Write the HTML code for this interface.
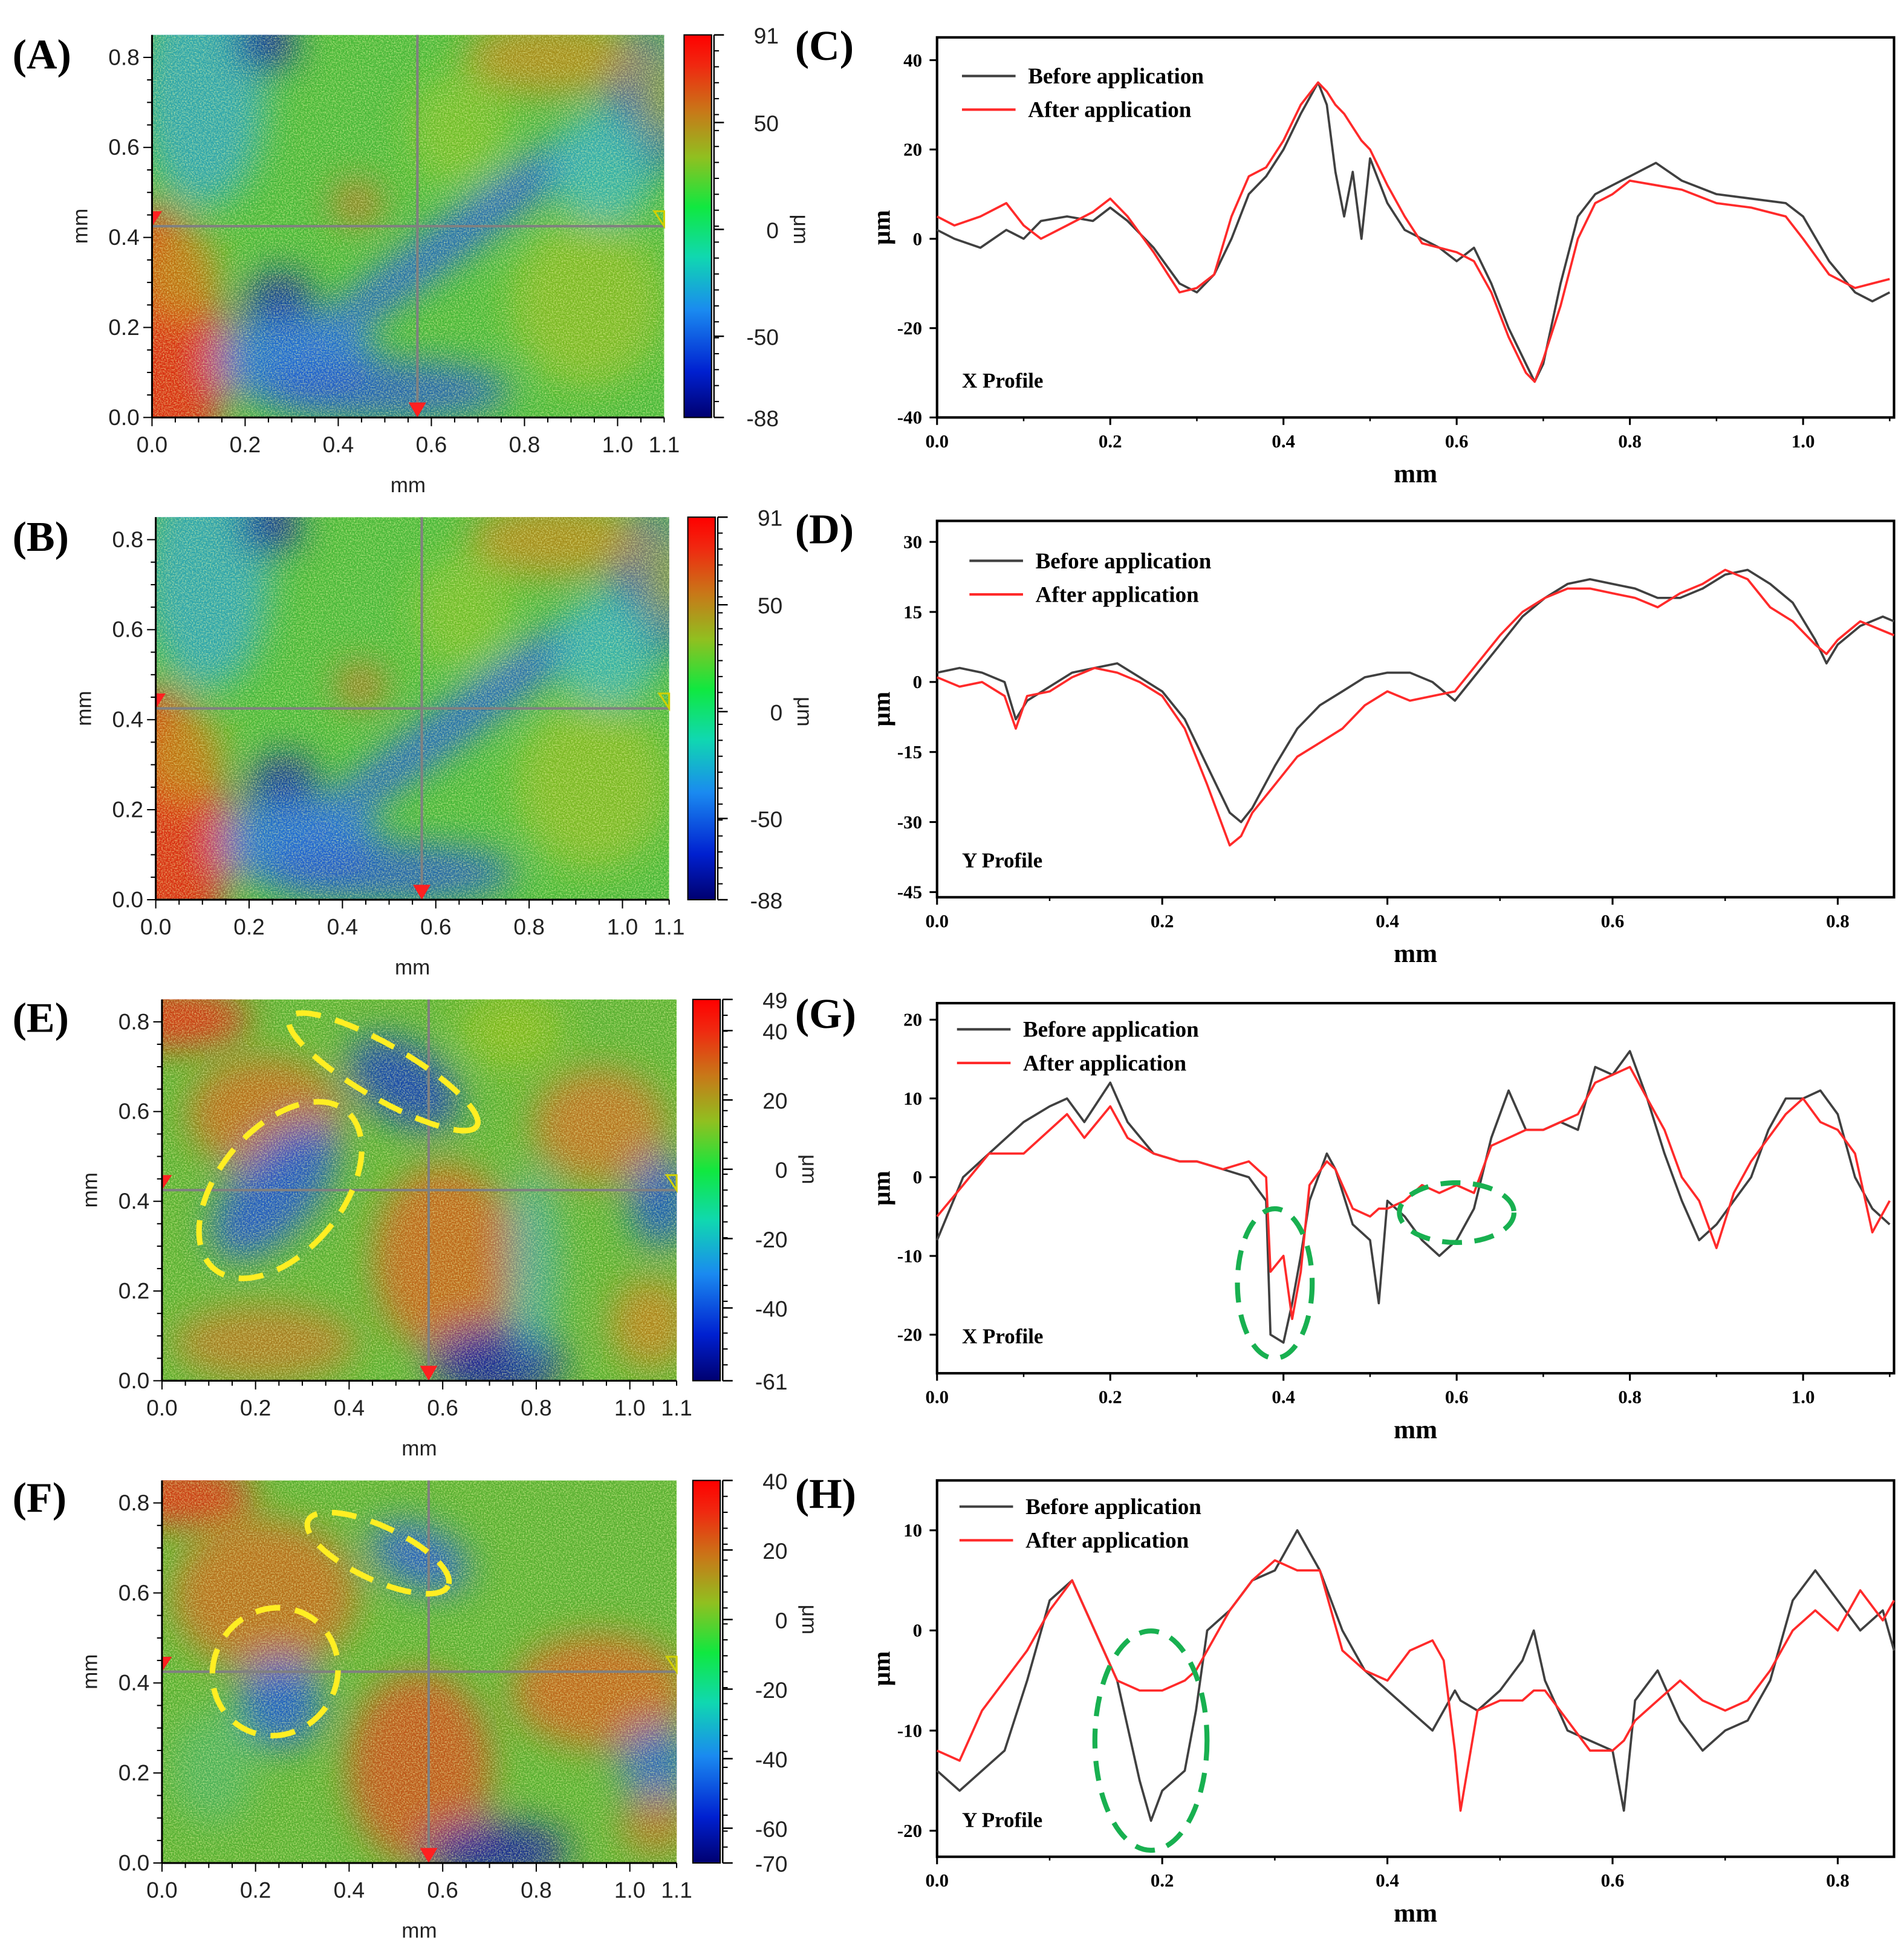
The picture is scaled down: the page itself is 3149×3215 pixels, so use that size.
<!DOCTYPE html>
<html><head><meta charset="utf-8"><style>
html,body{margin:0;padding:0;background:#fff;}
svg{display:block;}
text{font-family:"Liberation Sans",sans-serif;}
.serif{font-family:"Liberation Serif",serif;}
</style></head><body>
<svg id="fig" width="3149" height="3215" viewBox="0 0 1528 1560" preserveAspectRatio="none" xmlns="http://www.w3.org/2000/svg">
<defs>
<filter id="blur" x="-20%" y="-20%" width="140%" height="140%"><feGaussianBlur stdDeviation="14"/></filter>
<filter id="noise" x="0" y="0" width="100%" height="100%"><feTurbulence type="fractalNoise" baseFrequency="0.9" numOctaves="2" seed="3"/><feColorMatrix type="matrix" values="0 0 0 0 0.9  0 0 0 0 1  0 0 0 0 0.4  0 0 0 -2.2 1.35"/></filter>
<linearGradient id="jet" x1="0" y1="1" x2="0" y2="0">
<stop offset="0" stop-color="#000070"/><stop offset="0.12" stop-color="#0020d0"/><stop offset="0.28" stop-color="#1a8af0"/><stop offset="0.42" stop-color="#10d8b0"/><stop offset="0.55" stop-color="#10e840"/><stop offset="0.68" stop-color="#90c020"/><stop offset="0.8" stop-color="#c87818"/><stop offset="0.92" stop-color="#f02810"/><stop offset="1" stop-color="#ff0000"/>
</linearGradient>
</defs>
<g id="root"></g>
</svg>
<script>
// ---------- profile data ----------
const cX = [0,0.02,0.05,0.08,0.1,0.12,0.15,0.18,0.2,0.22,0.25,0.28,0.3,0.32,0.34,0.36,0.38,0.4,0.42,0.44,0.45,0.46,0.47,0.48,0.49,0.5,0.52,0.54,0.56,0.58,0.6,0.62,0.64,0.66,0.68,0.69,0.7,0.72,0.74,0.76,0.78,0.8,0.83,0.86,0.9,0.94,0.98,1.0,1.03,1.06,1.08,1.1];
const cBefore = [2,0,-2,2,0,4,5,4,7,4,-2,-10,-12,-8,0,10,14,20,28,35,30,15,5,15,0,18,8,2,0,-2,-5,-2,-10,-20,-28,-32,-28,-10,5,10,12,14,17,13,10,9,8,5,-5,-12,-14,-12];
const cAfter = [5,3,5,8,3,0,3,6,9,5,-3,-12,-11,-8,5,14,16,22,30,35,33,30,28,25,22,20,12,5,-1,-2,-3,-5,-12,-22,-30,-32,-27,-15,0,8,10,13,12,11,8,7,5,0,-8,-11,-10,-9];
const dX = [0,0.02,0.04,0.06,0.07,0.08,0.1,0.12,0.14,0.16,0.18,0.2,0.22,0.24,0.26,0.27,0.28,0.3,0.32,0.34,0.36,0.38,0.4,0.42,0.44,0.46,0.48,0.5,0.52,0.54,0.56,0.58,0.6,0.62,0.64,0.66,0.68,0.7,0.72,0.74,0.76,0.78,0.79,0.8,0.82,0.84,0.85];
const dBefore = [2,3,2,0,-8,-4,-1,2,3,4,1,-2,-8,-18,-28,-30,-27,-18,-10,-5,-2,1,2,2,0,-4,2,8,14,18,21,22,21,20,18,18,20,23,24,21,17,9,4,8,12,14,13];
const dAfter = [1,-1,0,-3,-10,-3,-2,1,3,2,0,-3,-10,-22,-35,-33,-28,-22,-16,-13,-10,-5,-2,-4,-3,-2,4,10,15,18,20,20,19,18,16,19,21,24,22,16,13,8,6,9,13,11,10];
const gX = [0,0.03,0.06,0.1,0.13,0.15,0.17,0.2,0.22,0.25,0.28,0.3,0.33,0.36,0.38,0.385,0.4,0.41,0.42,0.43,0.45,0.46,0.48,0.5,0.51,0.52,0.54,0.56,0.58,0.6,0.62,0.64,0.66,0.68,0.7,0.72,0.74,0.76,0.78,0.8,0.82,0.84,0.86,0.88,0.9,0.92,0.94,0.96,0.98,1.0,1.02,1.04,1.06,1.08,1.1];
const gBefore = [-8,0,3,7,9,10,7,12,7,3,2,2,1,0,-3,-20,-21,-16,-10,-3,3,1,-6,-8,-16,-3,-5,-8,-10,-8,-4,5,11,6,6,7,6,14,13,16,10,3,-3,-8,-6,-3,0,6,10,10,11,8,0,-4,-6];
const gAfter = [-5,-1,3,3,6,8,5,9,5,3,2,2,1,2,0,-12,-10,-18,-12,-1,2,1,-4,-5,-4,-4,-3,-1,-2,-1,-2,4,5,6,6,7,8,12,13,14,10,6,0,-3,-9,-2,2,5,8,10,7,6,3,-7,-3];
const hX = [0,0.02,0.04,0.06,0.08,0.1,0.12,0.14,0.16,0.18,0.19,0.2,0.22,0.23,0.24,0.26,0.28,0.3,0.32,0.34,0.36,0.38,0.4,0.42,0.44,0.45,0.46,0.465,0.48,0.5,0.52,0.53,0.54,0.56,0.58,0.6,0.61,0.62,0.64,0.66,0.68,0.7,0.72,0.74,0.76,0.78,0.8,0.82,0.84,0.85];
const hBefore = [-14,-16,-14,-12,-5,3,5,0,-5,-15,-19,-16,-14,-8,0,2,5,6,10,6,0,-4,-6,-8,-10,-8,-6,-7,-8,-6,-3,0,-5,-10,-11,-12,-18,-7,-4,-9,-12,-10,-9,-5,3,6,3,0,2,-2];
const hAfter = [-12,-13,-8,-5,-2,2,5,0,-5,-6,-6,-6,-5,-4,-2,2,5,7,6,6,-2,-4,-5,-2,-1,-3,-12,-18,-8,-7,-7,-6,-6,-9,-12,-12,-11,-9,-7,-5,-7,-8,-7,-4,0,2,0,4,1,3];
const xTicksX = [0,0.2,0.4,0.6,0.8,1.0];
const xTicksY = [0,0.2,0.4,0.6,0.8];
const cYTicks = [-40,-20,0,20,40];
const dYTicks = [-45,-30,-15,0,15,30];
const gYTicks = [-20,-10,0,10,20];
const hYTicks = [-20,-10,0,10];
const mapTicksX = [0,0.2,0.4,0.6,0.8,1.0,1.1];
const mapTicksY = [0,0.2,0.4,0.6,0.8];
const cbA = [91,50,0,-50,-88];
const cbE = [49,40,20,0,-20,-40,-61];
const cbF = [40,20,0,-20,-40,-60,-70];

const NS='http://www.w3.org/2000/svg';
const root=document.getElementById('root');
function el(tag,attrs,parent){const e=document.createElementNS(NS,tag);for(const k in attrs)e.setAttribute(k,attrs[k]);(parent||root).appendChild(e);return e;}
function txt(s,attrs,parent){const e=el('text',attrs,parent);e.textContent=s;return e;}

function profile(o){
  const g=el('g',{});
  
  
  const {x0,x1,y0,y1,xmin,xmax,ymin,ymax}=o;
  const sx=v=>x0+(v-xmin)/(xmax-xmin)*(x1-x0);
  const sy=v=>y1-(v-ymin)/(ymax-ymin)*(y1-y0);
  const box=el('rect',{x:x0,y:y0,width:x1-x0,height:y1-y0,fill:'none',stroke:'#000','stroke-width':2},g);
  
  o.xt.forEach(v=>{
    el('line',{x1:sx(v),x2:sx(v),y1:y1,y2:y1+6,stroke:'#000','stroke-width':1.5},g);
    const t=txt(v.toFixed(1),{x:sx(v),y:y1+24,'text-anchor':'middle','font-size':15,'font-weight':'bold',class:'serif'},g);
    
  });
  for(let v=xmin;v<=xmax+1e-9;v+=(o.xt[1]-o.xt[0])/2){el('line',{x1:sx(v),x2:sx(v),y1:y1,y2:y1+3,stroke:'#000','stroke-width':1.2},g);}
  o.yt.forEach(v=>{
    el('line',{x1:x0-6,x2:x0,y1:sy(v),y2:sy(v),stroke:'#000','stroke-width':1.5},g);
    const t=txt(String(v),{x:x0-12,y:sy(v)+5,'text-anchor':'end','font-size':15,'font-weight':'bold',class:'serif'},g);
    
  });
  const xl=txt('mm',{x:(x0+x1)/2,y:y1+52,'text-anchor':'middle','font-size':21,'font-weight':'bold',class:'serif'},g);
  
  const yl=txt('μm',{x:0,y:0,transform:`translate(${x0-38},${(y0+y1)/2}) rotate(-90)`,'text-anchor':'middle','font-size':20,'font-weight':'bold',class:'serif'},g);
  
  [[o.before,'#404040','before-application-line'],[o.after,'#ff2a2a','after-application-line']].forEach(([arr,c,n])=>{
    const d=o.xs.map((v,i)=>(i?'L':'M')+sx(v).toFixed(1)+' '+sy(arr[i]).toFixed(1)).join(' ');
    const p=el('path',{d:d,fill:'none',stroke:c,'stroke-width':1.8,'stroke-linejoin':'round'},g);
    
  });
  const lg=el('g',{},g);
  
  [['Before application','#404040'],['After application','#ff2a2a']].forEach(([s,c],i)=>{
    const yy=o.ly+i*27;
    el('line',{x1:o.lx,x2:o.lx+43,y1:yy,y2:yy,stroke:c,'stroke-width':2},lg);
    const t=txt(s,{x:o.lx+53,y:yy+6,'font-size':18,'font-weight':'bold',class:'serif'},lg);
    
  });
  const pl=txt(o.plabel,{x:x0+20,y:y1-24,'font-size':17,'font-weight':'bold',class:'serif'},g);
  
  (o.circles||[]).forEach(c=>{
    const e=el('ellipse',{cx:sx(c[0]),cy:sy(c[1]),rx:c[2],ry:c[3],fill:'none',stroke:'#18b050','stroke-width':4,'stroke-dasharray':'16 10'},g);
    
  });
}

function heatmap(o){
  const g=el('g',{});
  
  
  const {x0,x1,y0,y1}=o; const W=x1-x0,H=y1-y0;
  const id='clip'+o.name;
  const cp=el('clipPath',{id:id},g);el('rect',{x:x0,y:y0,width:W,height:H},cp);
  const inner=el('g',{'clip-path':`url(#${id})`},g);
  el('rect',{x:x0,y:y0,width:W,height:H,fill:o.base},inner);
  const bl=el('g',{filter:'url(#blur)'},inner);
  o.blobs.forEach(b=>{
    el('ellipse',{cx:x0+b[0]*W,cy:y0+b[1]*H,rx:b[2]*W,ry:b[3]*H,fill:b[4],opacity:b[6]||0.9,transform:`rotate(${b[5]||0} ${x0+b[0]*W} ${y0+b[1]*H})`},bl);
  });
  el('rect',{x:x0,y:y0,width:W,height:H,filter:'url(#noise)',opacity:0.6},inner);
  const cx=x0+0.57/1.1*W, cy=y1-0.425/0.85*H;
  el('line',{x1:cx,x2:cx,y1:y0,y2:y1,stroke:'#808080','stroke-width':2},g);
  el('line',{x1:x0,x2:x1,y1:cy,y2:cy,stroke:'#808080','stroke-width':2},g);
  el('path',{d:`M${cx-7} ${y1-12} L${cx+7} ${y1-12} L${cx} ${y1} Z`,fill:'#ff2020'},g);
  el('path',{d:`M${x0} ${cy-12} L${x0+8} ${cy-12} L${x0} ${cy} Z`,fill:'#ff2020'},g);
  el('path',{d:`M${x1-8} ${cy-12} L${x1} ${cy-12} L${x1} ${cy} Z`,fill:'none',stroke:'#d0d000','stroke-width':1.5},g);
  el('line',{x1:x0,x2:x1,y1:y1,y2:y1,stroke:'#000','stroke-width':1.5},g);
  el('line',{x1:x0,x2:x0,y1:y0,y2:y1,stroke:'#000','stroke-width':1.5},g);
  const sx=v=>x0+v/1.1*W, sy=v=>y1-v/0.85*H;
  for(let v=0;v<=1.1001;v+=0.05)el('line',{x1:sx(v),x2:sx(v),y1:y1,y2:y1+(Math.abs(v*5-Math.round(v*5))<1e-6?7:4),stroke:'#000','stroke-width':1},g);
  for(let v=0;v<=0.85;v+=0.05)el('line',{x1:x0-(Math.abs(v*5-Math.round(v*5))<1e-6?7:4),x2:x0,y1:sy(v),y2:sy(v),stroke:'#000','stroke-width':1},g);
  mapTicksX.forEach(v=>{const t=txt(v.toFixed(1),{x:sx(v),y:y1+28,'text-anchor':'middle','font-size':18,fill:'#222'},g);});
  mapTicksY.forEach(v=>{const t=txt(v.toFixed(1),{x:x0-10,y:sy(v)+6,'text-anchor':'end','font-size':18,fill:'#222'},g);});
  const xl=txt('mm',{x:(x0+x1)/2,y:y1+60,'text-anchor':'middle','font-size':17,fill:'#222'},g);
  
  const yl=txt('mm',{x:0,y:0,transform:`translate(${x0-52},${(y0+y1)/2}) rotate(-90)`,'text-anchor':'middle','font-size':17,fill:'#222'},g);
  
  const cb=el('g',{},g);
  el('rect',{x:o.cbx,y:y0,width:22,height:H,fill:'url(#jet)',stroke:'#000','stroke-width':1},cb);
  el('line',{x1:o.cbx+24,x2:o.cbx+24,y1:y0,y2:y1,stroke:'#000','stroke-width':1.2},cb);
  for(let i=0;i<=24;i++){el('line',{x1:o.cbx+24,x2:o.cbx+28,y1:y0+i*H/24,y2:y0+i*H/24,stroke:'#000','stroke-width':1},cb);}
  const vmax=o.cb[0],vmin=o.cb[o.cb.length-1];
  o.cb.forEach(v=>{const yy=y1-(v-vmin)/(vmax-vmin)*H;el('line',{x1:o.cbx+24,x2:o.cbx+32,y1:yy,y2:yy,stroke:'#000','stroke-width':1.2},cb);
    const t=txt(String(v),{x:o.cbx+76,y:yy+7,'text-anchor':'end','font-size':18,fill:'#222'},cb);});
  const ul=txt('μm',{x:0,y:0,transform:`translate(${o.cbx+88},${y1-(0-vmin)/(vmax-vmin)*H}) rotate(90)`,'text-anchor':'middle','font-size':17,fill:'#222'},cb);
  
  (o.yellow||[]).forEach(c=>{
    const e=el('ellipse',{cx:x0+c[0]*W,cy:y0+c[1]*H,rx:c[2]*W,ry:c[3]*H,fill:'none',stroke:'#ffee22','stroke-width':4.5,'stroke-dasharray':'20 12',transform:`rotate(${c[4]} ${x0+c[0]*W} ${y0+c[1]*H})`},g);
    
  });
}

const blobsAB=[
 [0.0,0.85,0.14,0.4,'#e02808',0,0.95],[0.06,0.62,0.08,0.12,'#b09010',0,0.7],
 [0.62,0.5,0.55,0.05,'#1a58d8',-37,0.95],[0.25,0.72,0.07,0.1,'#0818a0',0],
 [0.28,0.85,0.16,0.12,'#2070d8',0],[0.1,0.15,0.12,0.3,'#28a0c8',0,0.8],
 [0.22,0.02,0.06,0.08,'#0a20a0',0],[0.97,0.18,0.07,0.2,'#0830b0',0],
 [0.88,0.35,0.1,0.15,'#30b0b0',0],[0.78,0.06,0.17,0.1,'#b08818',0],
 [0.99,0.15,0.04,0.12,'#90a020',0],[0.4,0.44,0.05,0.06,'#b07020',0],
 [0.85,0.7,0.15,0.22,'#90b820',0,0.7],[0.45,0.93,0.25,0.08,'#1c50d0',0,0.8],
 [0.6,0.25,0.1,0.15,'#88c020',0,0.6]];
const blobsE=[
 [0.02,0.05,0.15,0.08,'#e02808',0],[0.2,0.3,0.15,0.15,'#c06818',0],[0.55,0.68,0.14,0.25,'#c86018',0],
 [0.2,0.9,0.18,0.1,'#b07820',0],[0.68,0.08,0.1,0.1,'#80b818',0],[0.85,0.33,0.13,0.15,'#c07020',0],
 [0.47,0.22,0.12,0.1,'#0c3ab8',35],[0.22,0.5,0.08,0.22,'#1a50d0',40],[0.65,0.95,0.13,0.1,'#0818a0',0],
 [0.97,0.53,0.06,0.12,'#1050c8',0],[0.72,0.7,0.05,0.25,'#30a0c8',0,0.6],[0.95,0.85,0.08,0.12,'#b88018',0]];
const blobsF=[
 [0.03,0.04,0.15,0.08,'#e02808',0],[0.2,0.3,0.18,0.2,'#c06818',0],[0.5,0.75,0.14,0.25,'#c85018',0],
 [0.85,0.55,0.17,0.15,'#c86018',0],[0.5,0.2,0.1,0.08,'#1c58d0',25],[0.23,0.58,0.08,0.12,'#1a58d0',0],
 [0.65,0.97,0.14,0.08,'#0818a0',0],[0.96,0.74,0.07,0.1,'#1860c8',0],[0.96,0.9,0.07,0.08,'#b07020',0],
 [0.1,0.75,0.08,0.15,'#40b070',0,0.6]];

heatmap({name:'panel-a-height-map',x0:122,x1:533,y0:28,y1:335,cbx:549,cb:cbA,base:'#48b838',blobs:blobsAB});
heatmap({name:'panel-b-height-map',x0:125,x1:537,y0:415,y1:722,cbx:552,cb:cbA,base:'#48b838',blobs:blobsAB});
heatmap({name:'panel-e-height-map',x0:130,x1:543,y0:802,y1:1108,cbx:556,cb:cbE,base:'#58b030',blobs:blobsE,
  yellow:[[0.43,0.19,0.21,0.07,30],[0.23,0.5,0.12,0.27,40]]});
heatmap({name:'panel-f-height-map',x0:130,x1:543,y0:1188,y1:1495,cbx:556,cb:cbF,base:'#58b030',blobs:blobsF,
  yellow:[[0.42,0.19,0.15,0.07,25],[0.22,0.5,0.12,0.17,35]]});

profile({name:'panel-c-x-profile',x0:752,x1:1520,y0:30,y1:335,xmin:0,xmax:1.105,ymin:-40,ymax:45.1,xs:cX,before:cBefore,after:cAfter,xt:xTicksX,yt:cYTicks,lx:772,ly:61,plabel:'X Profile'});
profile({name:'panel-d-y-profile',x0:752,x1:1520,y0:418,y1:720,xmin:0,xmax:0.85,ymin:-46.1,ymax:34.5,xs:dX,before:dBefore,after:dAfter,xt:xTicksY,yt:dYTicks,lx:778,ly:450,plabel:'Y Profile'});
profile({name:'panel-g-x-profile',x0:752,x1:1520,y0:805,y1:1102,xmin:0,xmax:1.105,ymin:-24.9,ymax:22.1,xs:gX,before:gBefore,after:gAfter,xt:xTicksX,yt:gYTicks,lx:768,ly:826,plabel:'X Profile',
  circles:[[0.39,-13.5,30,60],[0.6,-4.5,46,24]]});
profile({name:'panel-h-y-profile',x0:752,x1:1520,y0:1188,y1:1490,xmin:0,xmax:0.85,ymin:-22.6,ymax:14.98,xs:hX,before:hBefore,after:hAfter,xt:xTicksY,yt:hYTicks,lx:770,ly:1209,plabel:'Y Profile',
  circles:[[0.19,-11,45,88]]});

[['(A)',10,55],['(B)',10,442],['(E)',10,828],['(F)',10,1213],['(C)',638,48],['(D)',638,436],['(G)',638,825],['(H)',638,1210]].forEach(([s,x,y])=>{
  const t=txt(s,{x:x,y:y,'font-size':34,'font-weight':'bold',class:'serif'});
  
  
});
</script>
</body></html>
